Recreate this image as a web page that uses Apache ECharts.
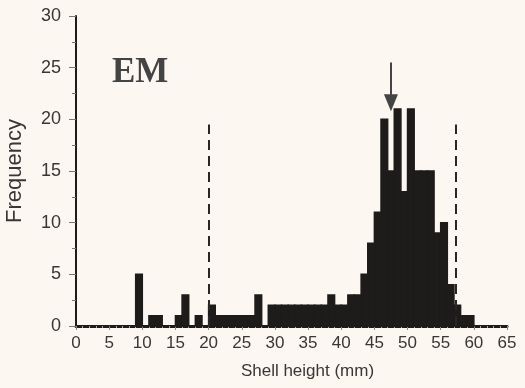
<!DOCTYPE html>
<html>
<head>
<meta charset="utf-8">
<script src="https://cdn.jsdelivr.net/npm/echarts@6/dist/echarts.min.js"></script>
<style>
  html, body { margin: 0; padding: 0; background: #fcf7f0; }
  #chart { width: 525px; height: 388px; }
</style>
</head>
<body>
<div id="chart"></div>
<script>
// Histogram of shell height (1 mm bins, bin start in mm)
const binStarts = [0,1,2,3,4,5,6,7,8,9,10,11,12,13,14,15,16,17,18,19,20,21,22,23,24,25,26,27,28,29,30,31,32,33,34,35,36,37,38,39,40,41,42,43,44,45,46,47,48,49,50,51,52,53,54,55,56,57,58,59,60,61,62,63,64];
const frequencies = [0,0,0,0,0,0,0,0,0,5,0,1,1,0,0,1,3,0,1,0,2,1,1,1,1,1,1,3,0,2,2,2,2,2,2,2,2,2,3,2,2,3,3,5,8,11,20,15,21,13,21,15,15,15,9,10,4,2,1,1,0,0,0,0,0];
const binWidth = 1;
const xTicks = [0,5,10,15,20,25,30,35,40,45,50,55,60,65];
const yTicks = [0,5,10,15,20,25,30];
const rangeLines = [20, 57.2];      // dashed reference lines (mm)
const rangeLineTop = 19.5;          // height of dashed lines (frequency)
const meanArrowX = 47.5;            // arrow position (mm)
const meanArrowFrom = 25.5, meanArrowTo = 21.6;
const panelLabel = 'EM';

const chart = echarts.init(document.getElementById('chart'), null, {renderer: 'canvas'});
const ink = '#1e1b1b';
const textColor = '#3a3636';

const option = {
  backgroundColor: '#fcf7f0',
  animation: false,
  grid: { left: 76, right: 18, top: 16, bottom: 62, containLabel: false, outerBoundsMode: 'none' },
  xAxis: {
    type: 'value', min: xTicks[0], max: xTicks[xTicks.length - 1], interval: 5,
    name: 'Shell height (mm)', nameLocation: 'middle', nameGap: 37,
    nameTextStyle: { fontFamily: 'Liberation Sans', fontSize: 17, color: textColor, padding: [0, 0, 0, 32] },
    axisLine: { show: true, lineStyle: { color: ink, width: 3 } },
    axisTick: { show: true, length: 4, lineStyle: { color: '#888', width: 1 } },
    minorTick: { show: true, splitNumber: 5, length: 2, lineStyle: { color: '#aaa' } },
    axisLabel: { fontFamily: 'Liberation Sans', fontSize: 17, color: textColor, margin: 9 },
    splitLine: { show: false }
  },
  yAxis: {
    type: 'value', min: yTicks[0], max: yTicks[yTicks.length - 1], interval: 5,
    name: 'Frequency', nameLocation: 'middle', nameGap: 50,
    nameTextStyle: { fontFamily: 'Liberation Sans', fontSize: 22, color: textColor },
    axisLine: { show: true, lineStyle: { color: ink, width: 2 } },
    axisTick: { show: true, length: 7, lineStyle: { color: '#777', width: 1 } },
    minorTick: { show: true, splitNumber: 2, length: 4, lineStyle: { color: '#777' } },
    axisLabel: { fontFamily: 'Liberation Sans', fontSize: 18, color: textColor, margin: 15 },
    splitLine: { show: false }
  },
  series: [
    {
      type: 'custom',
      data: binStarts.map((s, i) => [s, frequencies[i]]),
      encode: { x: 0, y: 1 },
      renderItem: function (params, api) {
        const x0 = api.value(0), v = api.value(1);
        if (!v) return null;
        const p0 = api.coord([x0, v]);
        const p1 = api.coord([x0 + binWidth, 0]);
        return {
          type: 'rect',
          shape: { x: p0[0], y: p0[1], width: p1[0] - p0[0], height: p1[1] - p0[1] },
          style: { fill: ink, stroke: ink, lineWidth: 1.5 }
        };
      },
      markLine: {
        silent: true,
        symbol: ['none', 'none'],
        label: { show: false },
        lineStyle: { color: '#2a2626', width: 2, type: [10, 6] },
        data: rangeLines.map(x => [{ coord: [x, 0] }, { coord: [x, rangeLineTop] }]).concat([
          [
            { coord: [meanArrowX, meanArrowFrom], symbol: 'none', lineStyle: { type: 'solid', width: 2, color: '#444' } },
            { coord: [meanArrowX, meanArrowTo], symbol: 'triangle', symbolSize: [14, 17], symbolRotate: 180, lineStyle: { type: 'solid', width: 2, color: '#444' } }
          ]
        ])
      }
    }
  ],
  graphic: [
    {
      type: 'text', left: 112, top: 55,
      style: { text: panelLabel, font: 'bold 35px "Liberation Serif"', fill: '#444' }
    }
  ]
};
chart.setOption(option);
</script>
</body>
</html>
